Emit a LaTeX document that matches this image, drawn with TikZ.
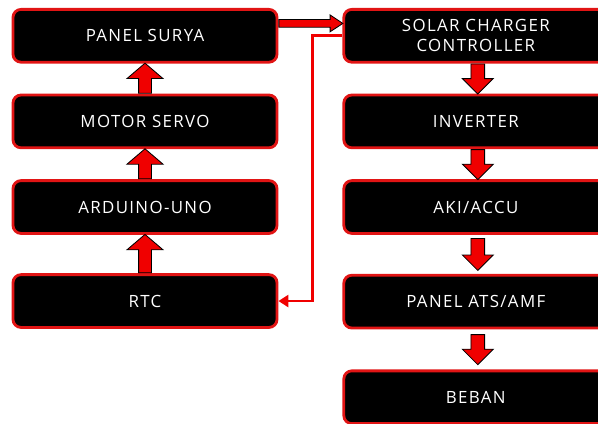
\documentclass[tikz,border=0pt]{standalone}
\usepackage{fontspec}
\setmainfont{Open Sans}[LetterSpace=8]
\usetikzlibrary{shapes.arrows, arrows.meta}
\usetikzlibrary{positioning}

\definecolor{boxred}{RGB}{225,20,20}
\definecolor{arrred}{RGB}{240,0,0}

\begin{document}
\begin{tikzpicture}[
        blok/.style={draw=boxred, line width=2pt, fill=black, rounded corners=0.2cm, minimum width=6.6cm, minimum height=1.32cm, align=center, text=white, font=\fontsize{12}{14}\selectfont},
        panah/.style={single arrow, draw=black, line width=0.6pt, fill=arrred, anchor=tail},
    ]
        \useasboundingbox (0,0) rectangle (14.95,-10.6);

        \node[blok] (panel) at (3.625,-0.895) {PANEL SURYA};
        \node[blok, below=0.75cm of panel] (servo) {MOTOR SERVO};
        \node[blok, below=0.75cm of servo] (arduino) {ARDUINO-UNO};
        \node[blok, below=0.96cm of arduino] (rtc) {RTC};

        \node[blok, right=1.6cm of panel] (scc) {SOLAR CHARGER\\CONTROLLER};
        \node[blok, below=0.75cm of scc] (inverter) {INVERTER};
        \node[blok, below=0.75cm of inverter] (aki) {AKI/ACCU};
        \node[blok, below=0.975cm of aki] (ats) {PANEL ATS/AMF};
        \node[blok, below=1cm of ats] (beban) {BEBAN};

         %% left column, going up
         \node[panah, shape border rotate=90, inner sep=0.15cm, single arrow head extend=0.29cm, single arrow tip angle=99, minimum height=0.75cm] (a1) at (servo.north) {};
         \node[panah, shape border rotate=90, inner sep=0.15cm, single arrow head extend=0.29cm, single arrow tip angle=99, minimum height=0.75cm] (a2) at (arduino.north) {};
         \node[panah, shape border rotate=90, inner sep=0.15cm, single arrow head extend=0.29cm, single arrow tip angle=99, minimum height=0.96cm] (a3) at (rtc.north) {};

         %% panel to charger
         \node[panah, inner sep=0.085cm, single arrow head extend=0.115cm, single arrow tip angle=67, minimum height=1.6cm] (a4) at ([yshift=0.31cm]panel.east) {};

         %% right column, going down
         \node[panah, shape border rotate=270, inner sep=0.16cm, single arrow head extend=0.215cm, single arrow tip angle=90, minimum height=0.75cm] (a5) at ([xshift=0.05cm]scc.south) {};
         \node[panah, shape border rotate=270, inner sep=0.16cm, single arrow head extend=0.215cm, single arrow tip angle=90, minimum height=0.75cm] (a6) at ([xshift=0.05cm]inverter.south) {};
         \node[panah, shape border rotate=270, inner sep=0.16cm, single arrow head extend=0.215cm, single arrow tip angle=90, minimum height=0.8cm] (a7) at ([xshift=0.05cm,yshift=-0.08cm]aki.south) {};
         \node[panah, shape border rotate=270, inner sep=0.16cm, single arrow head extend=0.215cm, single arrow tip angle=90, minimum height=0.75cm] (a8) at ([xshift=0.05cm,yshift=-0.12cm]ats.south) {};

         % charger back to rtc
         \draw[arrred, line width=2pt, -{Triangle[length=0.25cm, width=0.3cm]}] (scc.west) -- ++(-0.75,0) |- (rtc.east);
\end{tikzpicture}
\end{document}
